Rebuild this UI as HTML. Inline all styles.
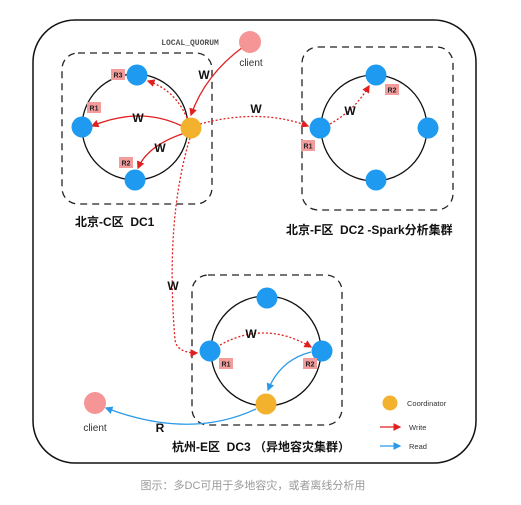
<!DOCTYPE html>
<html><head><meta charset="utf-8"><style>
body{margin:0;background:#fff;width:521px;height:500px;overflow:hidden}
svg text{font-family:"Liberation Sans","Noto Sans CJK SC",sans-serif}
</style></head><body>
<svg width="521" height="500" viewBox="0 0 521 500" xmlns="http://www.w3.org/2000/svg">
<defs>
<marker id="ar" markerWidth="6" markerHeight="6" refX="5" refY="3" orient="auto"><path d="M0,0 L6,3 L0,6 z" fill="#e02020"/></marker>
<marker id="ab" markerWidth="6" markerHeight="6" refX="5" refY="3" orient="auto"><path d="M0,0 L6,3 L0,6 z" fill="#2a9ae8"/></marker>
</defs>
<rect x="33" y="20" width="443" height="443" rx="42" fill="none" stroke="#111" stroke-width="1.5"/>
<g fill="none" stroke="#222" stroke-width="1.3" stroke-dasharray="7,5">
<rect x="62" y="53" width="150" height="151" rx="16"/>
<rect x="302" y="47" width="151" height="163" rx="16"/>
<rect x="192" y="275" width="150" height="150" rx="16"/>
</g>
<g fill="none" stroke="#111" stroke-width="1.3">
<circle cx="135" cy="127" r="53"/>
<circle cx="374" cy="128" r="53"/>
<circle cx="266" cy="351" r="55"/>
</g>
<g fill="none" stroke="#e02020" stroke-width="1.3">
<path d="M243,47 Q205,75 191,115" marker-end="url(#ar)"/>
<path d="M182,126 Q140,106 92,126" marker-end="url(#ar)"/>
<path d="M185,133 Q148,145 138,168" marker-end="url(#ar)"/>
<path d="M187,118 Q175,90 148,81" stroke-dasharray="2,2" marker-end="url(#ar)"/>
<path d="M200,124 Q260,108 308,126" stroke-dasharray="2,2" marker-end="url(#ar)"/>
<path d="M190,138 Q165,220 175,340 Q177,353 197,353" stroke-dasharray="2,2" marker-end="url(#ar)"/>
<path d="M330,124 Q355,110 369,86" stroke-dasharray="2,2" marker-end="url(#ar)"/>
<path d="M220,345 Q265,320 311,347" stroke-dasharray="2,2" marker-end="url(#ar)"/>
</g>
<g fill="none" stroke="#2a9ae8" stroke-width="1.3">
<path d="M311,352 Q280,360 268,390" marker-end="url(#ab)"/>
<path d="M256,409 Q190,440 106,408" marker-end="url(#ab)"/>
</g>
<g fill="#1e9bf0">
<circle cx="137" cy="75" r="10.5"/><circle cx="82" cy="127" r="10.5"/><circle cx="135" cy="180" r="10.5"/>
<circle cx="376" cy="75" r="10.5"/><circle cx="320" cy="128" r="10.5"/><circle cx="428" cy="128" r="10.5"/><circle cx="376" cy="180" r="10.5"/>
<circle cx="267" cy="298" r="10.5"/><circle cx="210" cy="351" r="10.5"/><circle cx="322" cy="351" r="10.5"/>
</g>
<g fill="#f3b22e"><circle cx="191" cy="128" r="10.5"/><circle cx="266" cy="404" r="10.5"/><circle cx="390" cy="403" r="7.5"/></g>
<g fill="#f59595"><circle cx="250" cy="42" r="11"/><circle cx="95" cy="403" r="11"/></g>
<g fill="#f39c9c">
<rect x="111" y="69" width="14" height="11"/><rect x="87" y="102" width="14" height="11"/><rect x="119" y="157" width="14" height="11"/>
<rect x="385" y="84" width="14" height="11"/><rect x="301" y="140" width="14" height="11"/>
<rect x="219" y="358" width="14" height="11"/><rect x="303" y="358" width="14" height="11"/>
</g>
<g font-size="7" fill="#222" text-anchor="middle" font-weight="bold">
<text x="118" y="77.5">R3</text><text x="94" y="110.5">R1</text><text x="126" y="165.5">R2</text>
<text x="392" y="92.5">R2</text><text x="308" y="148.5">R1</text>
<text x="226" y="366.5">R1</text><text x="310" y="366.5">R2</text>
</g>
<g font-size="12" font-weight="bold" fill="#111" text-anchor="middle">
<text x="204" y="79">W</text><text x="138" y="122">W</text><text x="160" y="152">W</text>
<text x="256" y="113">W</text><text x="350" y="115">W</text><text x="173" y="290">W</text>
<text x="251" y="338">W</text><text x="160" y="432">R</text>
</g>
<text x="190" y="45" font-size="8" font-weight="bold" fill="#555" text-anchor="middle" style="font-family:'Liberation Mono',monospace">LOCAL_QUORUM</text>
<text x="251" y="66" font-size="10" fill="#333" text-anchor="middle">client</text>
<text x="95" y="431" font-size="10" fill="#333" text-anchor="middle">client</text>
<g font-size="12" font-weight="bold" fill="#111">
<text x="75" y="226">北京-C区&#160;&#160;DC1</text>
<text x="286" y="234">北京-F区&#160;&#160;DC2 -Spark分析集群</text>
<text x="172" y="451">杭州-E区&#160;&#160;DC3 （异地容灾集群）</text>
</g>
<g font-size="7.5" fill="#333">
<text x="407" y="406">Coordinator</text><text x="409" y="430">Write</text><text x="409" y="449">Read</text>
</g>
<line x1="380" y1="427" x2="400" y2="427" stroke="#e02020" stroke-width="1.3" marker-end="url(#ar)"/>
<line x1="380" y1="446" x2="400" y2="446" stroke="#2a9ae8" stroke-width="1.3" marker-end="url(#ab)"/>
<text x="253" y="489" font-size="11" fill="#999" text-anchor="middle">图示：多DC可用于多地容灾，或者离线分析用</text>
</svg>
</body></html>
